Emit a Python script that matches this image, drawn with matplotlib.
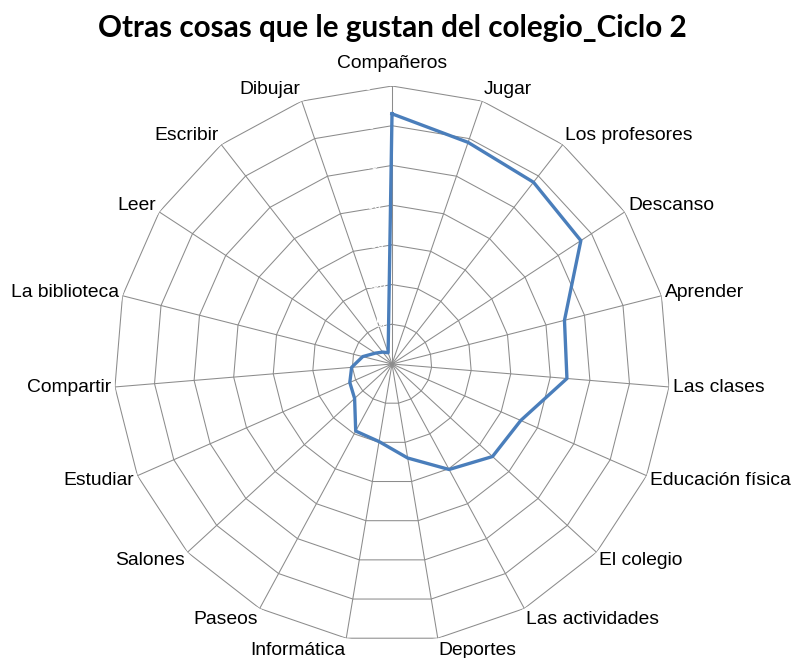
"""
Gráfico radial: Otras cosas que le gustan del colegio_Ciclo 2
"""
import numpy as np
import matplotlib
matplotlib.use('Agg')
import matplotlib.pyplot as plt

# categorías (en el sentido de las agujas del reloj, empezando arriba)
categorias = ['Compañeros', 'Jugar', 'Los profesores', 'Descanso', 'Aprender',
              'Las clases', 'Educación física', 'El colegio', 'Las actividades',
              'Deportes', 'Informática', 'Paseos', 'Salones', 'Estudiar',
              'Compartir', 'La biblioteca', 'Leer', 'Escribir', 'Dibujar']

valores = [315, 295, 290, 284, 224, 221, 177, 172, 151, 120,
           99, 96, 64, 58, 51, 38, 25, 19, 15]

niveles = [0, 50, 100, 150, 200, 250, 300, 350]

titulo = 'Otras cosas que le gustan del colegio_Ciclo 2'

n = len(categorias)
angulos = np.arange(n) * 2 * np.pi / n

fig = plt.figure(figsize=(7.94, 6.58), dpi=100)
# centro en (392, 364) px, radio exterior ~278 px
ax = fig.add_axes([114 / 794, 16 / 658, 556 / 794, 556 / 658], projection='polar')
ax.set_theta_offset(np.pi / 2)
ax.set_theta_direction(-1)
ax.set_ylim(0, 350)

# sin rejilla circular, usamos polígonos como en Excel
ax.spines['polar'].set_visible(False)
ax.yaxis.grid(False)
ax.set_yticks([])
ax.set_xticks(angulos)
ax.set_xticklabels([])
ax.xaxis.grid(True, color='#8c8c8c', linewidth=0.75)
ax.tick_params(axis='x', length=0)

cerrado = np.append(angulos, angulos[0])
for r in niveles[1:]:
    ax.plot(cerrado, [r] * (n + 1), color='#8c8c8c', linewidth=0.75, zorder=1)

# etiquetas del eje radial (blancas en el original)
for r in niveles[1:]:
    ax.text(-0.07, r, str(r), color='white', fontsize=9, ha='right', va='center',
            family='Liberation Sans', zorder=2)

# serie
ax.plot(cerrado, valores + [valores[0]], color='#4a7ebb', linewidth=2.4, zorder=3)

# etiquetas de categorías
for i, (ang, cat) in enumerate(zip(angulos, categorias)):
    s, c = np.sin(ang), np.cos(ang)
    if abs(s) < 0.05:
        ha = 'center'
    elif s > 0:
        ha = 'left'
    else:
        ha = 'right'
    dx = s * 4
    dy = c * 12
    if abs(s) < 0.05:
        dy = c * 22
    ax.annotate(cat, xy=(ang, 350), xytext=(dx * 0.72, dy * 0.72),
                textcoords='offset points', ha=ha, va='center',
                fontsize=13.9, family='Liberation Sans', annotation_clip=False)

fig.text(392 / 794, 1 - 28 / 658, titulo, ha='center', va='center',
         fontsize=21.3, fontweight='bold', family='Lato')

fig.savefig('out.png', dpi=100)
plt.close(fig)
